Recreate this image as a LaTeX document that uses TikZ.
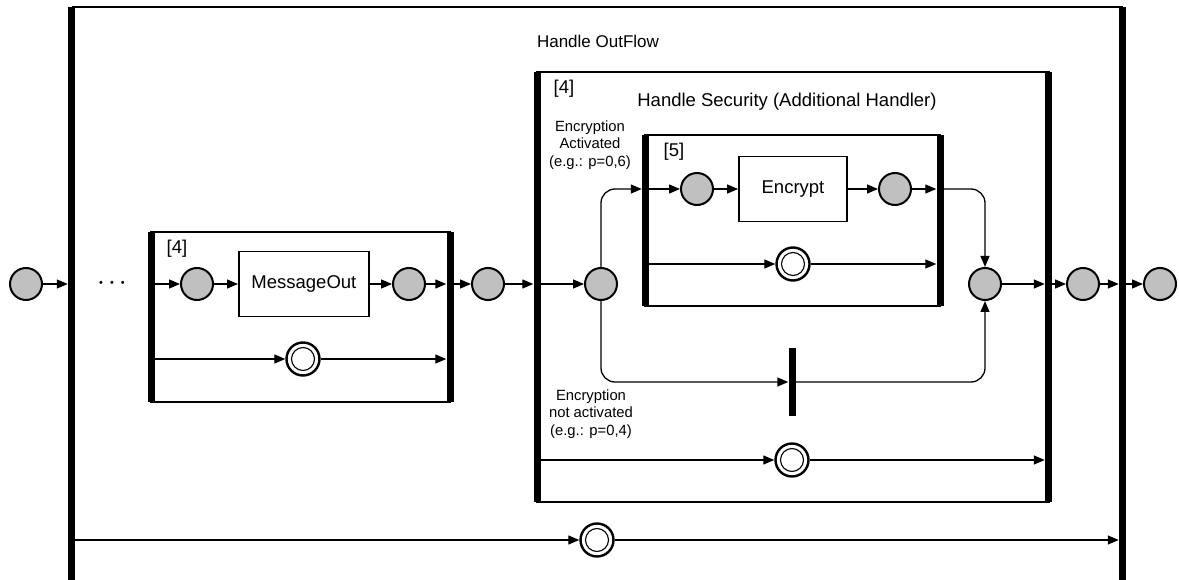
\documentclass[tikz,border=0pt]{standalone}
\usepackage{fontspec}
\setmainfont{Liberation Sans}
\usetikzlibrary{arrows.meta,positioning}
\definecolor{PlaceGray}{HTML}{C0C0C0}

\begin{document}
\begin{tikzpicture}[x=1pt,y=-1pt,
    font=\fontsize{18.5}{22}\selectfont,
    place/.style={circle,draw,line width=2pt,fill=PlaceGray,minimum size=32pt,inner sep=0pt},
    dplace/.style={circle,draw,line width=2.4pt,fill=white,minimum size=33pt,inner sep=0pt,
      path picture={\draw[line width=1.1pt] (path picture bounding box.center) circle (11.5pt);}},
    trans/.style={draw,line width=1.8pt,minimum height=65pt,inner sep=0pt},
    bar/.style={fill=black,inner sep=0pt,minimum width=7pt},
    frame/.style={line width=2.5pt},
    note/.style={font=\fontsize{14.8}{17.4}\selectfont,align=center},
    arr/.style={-{Triangle[length=11pt,width=9pt]},line width=1.3pt}
  ]
  \useasboundingbox (0,0) rectangle (1179,580);
  % block bars
  \node[bar,minimum height=573pt] (lO) at (71.5,293.5) {};
  \node[bar,minimum height=573pt] (rO) at (1122.5,293.5) {};
  \node[bar,minimum height=430pt] (l4) at (537,287) {};
  \node[bar,minimum height=430pt] (r4) at (1048.5,287) {};
  \node[bar,minimum height=171pt] (l5) at (645.5,220.5) {};
  \node[bar,minimum height=171pt] (r5) at (940,220.5) {};
  \node[bar,minimum height=170pt] (ls) at (151,317) {};
  \node[bar,minimum height=170pt] (rs) at (450,317) {};
  \draw[frame] (lO.north) -- (rO.north);
  \draw[frame] (l4.north) rectangle (r4.south);
  \draw[frame] (l5.north) rectangle (r5.south);
  \draw[frame] (ls.north) rectangle (rs.south);
  % labels
  \node[font=\fontsize{17}{20}\selectfont] (tO) at (598,41) {Handle OutFlow};
  \node (t4) at (787,102) {Handle Security (Additional Handler)};
  \node (n4s) at (177,249) {[4]};
  \node (n4) at (564,89) {[4]};
  \node (n5) at (674,152) {[5]};
  \node[note] (yes) at (590,145) {Encryption\\Activated\\(e.g.: p=0,6)};
  \node[note] (no) at (591,414) {Encryption\\not activated\\(e.g.: p=0,4)};
  % places and transitions
  \node[place] (c0) at (26,284) {};
  \node[font=\fontsize{11}{11}\selectfont] (dots) at (112,284)
    {\textbullet\hspace{7pt}\textbullet\hspace{7pt}\textbullet};
  \node[place] (c1) at (197,284) {};
  \node[trans,minimum width=130pt,right=24pt of c1] (msg) {MessageOut};
  \node[place] (c2) at (409,284) {};
  \node[dplace] (ds) at (303,359) {};
  \node[place] (c3) at (488,284) {};
  \node[place] (j1) at (601,284) {};
  \node[place] (enin) at (697,189) {};
  \node[trans,minimum width=108pt] (enc) at (793,189) {Encrypt};
  \node[place] (enout) at (895,189) {};
  \node[dplace] (d5) at (793,264) {};
  \node[bar,minimum height=68pt] (skip) at (792,382) {};
  \node[place] (j2) at (985,284) {};
  \node[dplace] (d4) at (792,460) {};
  \node[place] (c5) at (1083,284) {};
  \node[place] (c6) at (1160,284) {};
  \node[dplace] (dO) at (597,540) {};
  % main row
  \draw[arr] (c0) -- (c0 -| lO.west);
  \draw[arr] (ls.east |- c1) -- (c1);
  \draw[arr] (c1) -- (msg);
  \draw[arr] (msg) -- (c2);
  \draw[arr] (c2) -- (c2 -| rs.west);
  \draw[arr] (rs.east |- c2) -- (c3);
  \draw[arr] (ls.east |- ds) -- (ds);
  \draw[arr] (ds) -- (ds -| rs.west);
  \draw[arr] (c3) -- (c3 -| l4.west);
  \draw[arr] (l4.east |- j1) -- (j1);
  % security branches
  \draw[arr,rounded corners=14pt] (j1.north) |- (l5.west |- enin);
  \draw[arr] (l5.east |- enin) -- (enin);
  \draw[arr] (enin) -- (enc);
  \draw[arr] (enc) -- (enout);
  \draw[arr] (enout) -- (enout -| r5.west);
  \draw[arr,rounded corners=14pt] (r5.east |- enout) -| (j2.north);
  \draw[arr] (l5.east |- d5) -- (d5);
  \draw[arr] (d5) -- (d5 -| r5.west);
  \draw[arr,rounded corners=14pt] (j1.south) |- (skip.west);
  \draw[arr,rounded corners=14pt] (skip.east) -| (j2.south);
  \draw[arr] (l4.east |- d4) -- (d4);
  \draw[arr] (d4) -- (d4 -| r4.west);
  \draw[arr] (j2) -- (j2 -| r4.west);
  \draw[arr] (r4.east |- c5) -- (c5);
  \draw[arr] (c5) -- (c5 -| rO.west);
  \draw[arr] (rO.east |- c6) -- (c6);
  \draw[arr] (lO.east |- dO) -- (dO);
  \draw[arr] (dO) -- (dO -| rO.west);
\end{tikzpicture}
\end{document}
